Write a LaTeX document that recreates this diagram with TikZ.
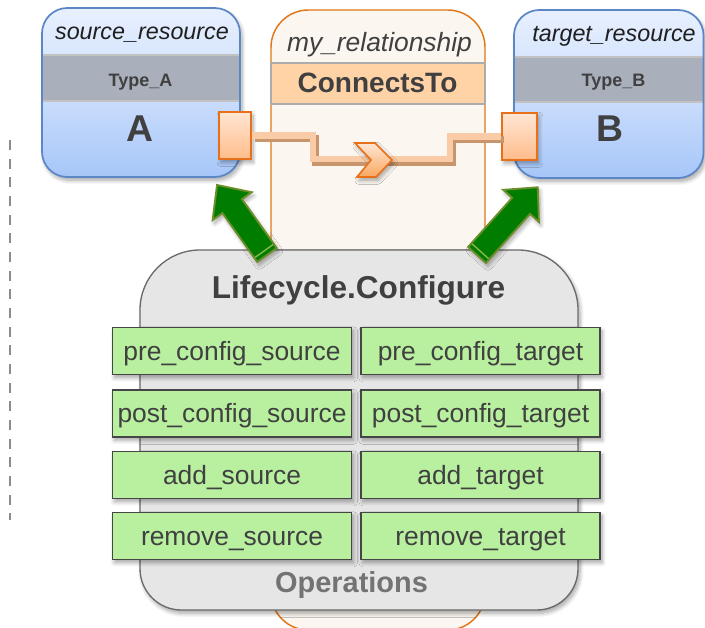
\documentclass[tikz,border=0pt]{standalone}
\usepackage{fontspec}
\setmainfont{Liberation Sans}
\usetikzlibrary{shadows.blur}

\definecolor{resborder}{HTML}{5B87C7}
\definecolor{restop}{HTML}{E8F0FE}
\definecolor{resmid}{HTML}{D8E6FD}
\definecolor{reslow}{HTML}{C9DCFC}
\definecolor{resbot}{HTML}{A6C6F8}
\definecolor{bandgray}{HTML}{A9AFBB}
\definecolor{bandline}{HTML}{C2C2C2}
\definecolor{darktext}{HTML}{404040}
\definecolor{relborder}{HTML}{E07818}
\definecolor{relfill}{HTML}{FBF6F0}
\definecolor{relband}{HTML}{FFD3A6}
\definecolor{portborder}{HTML}{E8701A}
\definecolor{porttop}{HTML}{FFE6D4}
\definecolor{portbot}{HTML}{FFBC8A}
\definecolor{chevbot}{HTML}{F9A860}
\definecolor{wirepale}{HTML}{F9CBA6}
\definecolor{wiredark}{HTML}{C8956C}
\definecolor{opsfill}{HTML}{E6E6E6}
\definecolor{opsborder}{HTML}{6A6A6A}
\definecolor{opgreen}{HTML}{B9F0A0}
\definecolor{opborder}{HTML}{464646}
\definecolor{arrowgreen}{HTML}{007D00}
\definecolor{arrowolive}{HTML}{6E8E2A}
\definecolor{arrowlight}{HTML}{8DB84A}

\begin{document}
\begin{tikzpicture}[x=0.75pt,y=-0.75pt,
  softshadow/.style={blur shadow={shadow xshift=1.5pt,shadow yshift=-2.5pt,
      shadow blur steps=8,shadow blur radius=3pt,shadow opacity=35}},
  guide/.style={draw=gray!90,line width=2pt,dash pattern=on 7.5pt off 6.5pt},
  resframe/.style={draw=resborder,line width=1.3pt,rounded corners=19pt},
  titletext/.style={anchor=base,inner sep=0pt,text=black!88,
      font=\fontsize{17.5}{20}\selectfont\itshape},
  typetext/.style={anchor=base,inner sep=0pt,text=darktext,
      font=\fontsize{13.5}{16}\selectfont\bfseries},
  idtext/.style={anchor=base,inner sep=0pt,text=darktext,
      font=\fontsize{28}{32}\selectfont\bfseries},
  portbox/.style={draw=portborder,line width=1.5pt,top color=porttop,
      bottom color=portbot,minimum width=24pt,minimum height=35.5pt,
      inner sep=0pt,softshadow},
  relframe/.style={draw=relborder,line width=1.1pt,fill=relfill,rounded corners=28pt},
  relbandbox/.style={draw=gray!65,line width=1.2pt,fill=relband,
      minimum width=160.5pt,minimum height=30.75pt,inner sep=0pt},
  wire/.style={line width=5pt},
  opsframe/.style={draw=opsborder,line width=1pt,fill=opsfill,softshadow},
  opbox/.style={draw=opborder,line width=1.2pt,fill=opgreen,
      minimum width=179.5pt,minimum height=35.25pt,inner sep=0pt,text=darktext,
      text height=14pt,text depth=0pt,
      font=\fontsize{19.8}{22}\selectfont,softshadow},
  bigarrow/.style={fill=arrowgreen,draw=arrowolive,line width=1.4pt,line join=miter,softshadow},
]
\clip (0,0) rectangle (705,627);

% dashed guide on the left
\coordinate (g1) at (10,140);
\coordinate (g2) at (10,520);
\draw[guide] (g1) -- (g2);

% ---------- relationship container ----------
\draw[relframe] (271,10) rectangle (485,630);
\node[titletext,text=darktext,font=\fontsize{19.8}{22}\selectfont\itshape]
  (relname) at (379.5,52) {my\_relationship};
\node[relbandbox] (rel) at (378,83.5) {};
\node[anchor=base,inner sep=0pt,text=darktext,font=\fontsize{21}{24}\selectfont\bfseries]
  (reltype) at (377.5,93) {ConnectsTo};

% ---------- source resource ----------
\fill[white,softshadow,rounded corners=19pt] (42,8) rectangle (240,177);
\begin{scope}
  \clip[rounded corners=19pt] (42,8) rectangle (240,177);
  \shade[top color=restop,bottom color=resmid] (42,8) rectangle (240,55);
  \fill[bandgray] (42,55) rectangle (240,101);
  \shade[top color=reslow,bottom color=resbot] (42,101) rectangle (240,177);
  \draw[bandline,line width=1.3pt] (42,55) -- (240,55) (42,101) -- (240,101);
\end{scope}
\draw[resframe] (42,8) rectangle (240,177);
\node[titletext] (srcname) at (142,40) {source\_resource};
\node[typetext] (srctype) at (140.5,87) {Type\_A};
\node[idtext] (srcid) at (139.5,142) {A};

% ---------- target resource ----------
\fill[white,softshadow,rounded corners=19pt] (514,10) rectangle (703.5,178);
\begin{scope}
  \clip[rounded corners=19pt] (514,10) rectangle (703.5,178);
  \shade[top color=restop,bottom color=resmid] (514,10) rectangle (704,57);
  \fill[bandgray] (514,57) rectangle (704,102);
  \shade[top color=reslow,bottom color=resbot] (514,102) rectangle (704,178);
  \draw[bandline,line width=1.3pt] (514,57) -- (704,57) (514,102) -- (704,102);
\end{scope}
\draw[resframe] (514,10) rectangle (703.5,178);
\node[titletext] (tgtname) at (614,42) {target\_resource};
\node[typetext] (tgttype) at (613.5,87) {Type\_B};
\node[idtext] (tgtid) at (610,142) {B};

% ---------- ports and the relationship wire ----------
\node[portbox] (sp) at (235,135.5) {};
\node[portbox,minimum width=26pt] (tp) at (519.5,136.5) {};
\coordinate (k1) at (313,159);
\coordinate (k2) at (450,159);
\begin{scope}[transform canvas={xshift=2pt,yshift=-2.5pt}]
  \draw[wire,draw=wiredark] (sp.east) -| (k1) -- (k2) |- (tp.west);
\end{scope}
\draw[wire,draw=wirepale] (sp.east) -| (k1) -- (k2) |- (tp.west);
% chevron marking the direction
\shade[top color=porttop,bottom color=chevbot,draw=portborder,line width=1.2pt,
  line join=miter,softshadow]
  (355,143) -- (375,143) -- (392,160) -- (376,177) -- (357,177) -- (371,160) -- cycle;

% ---------- operations container ----------
\draw[opsframe] (359,250) [rounded corners=45pt] -- (140,250) -- (140,430)
  [rounded corners=31pt] -- (140,610) -- (578,610) -- (578,430)
  [rounded corners=45pt] -- (578,250) -- cycle;
\node[anchor=base,inner sep=0pt,text=darktext,font=\fontsize{23.7}{27}\selectfont\bfseries]
  (lc) at (358.5,298) {Lifecycle.Configure};
\node[anchor=base,inner sep=0pt,text=black!55,font=\fontsize{21.7}{25}\selectfont\bfseries]
  (ops) at (351.5,592) {Operations};

\node[opbox] (o1) at (232,351)   {pre\_config\_source};
\node[opbox] (o2) at (480.5,351) {pre\_config\_target};
\node[opbox] (o3) at (232,413.5) {post\_config\_source};
\node[opbox] (o4) at (480.5,413.5) {post\_config\_target};
\node[opbox] (o5) at (232,475)   {add\_source};
\node[opbox] (o6) at (480.5,475) {add\_target};
\node[opbox] (o7) at (232,536)   {remove\_source};
\node[opbox] (o8) at (480.5,536) {remove\_target};

% ---------- green arrows pointing at the two ports ----------
\coordinate (la) at (267,255);
\coordinate (ra) at (477,255);
\begin{scope}[shift={(la)},rotate=125.5]
  \draw[bigarrow] (0,-12) -- (60,-12) -- (60,-24) -- (86,0) -- (60,24) -- (60,12) -- (0,12) -- cycle;
  \draw[arrowlight,line width=1pt] (5,-11) -- (5,11);
\end{scope}
\begin{scope}[shift={(ra)},rotate=48.1]
  \draw[bigarrow] (0,-12) -- (66,-12) -- (66,-24) -- (91,0) -- (66,24) -- (66,12) -- (0,12) -- cycle;
  \draw[arrowlight,line width=1pt] (5,-11) -- (5,11);
\end{scope}
\end{tikzpicture}
\end{document}
